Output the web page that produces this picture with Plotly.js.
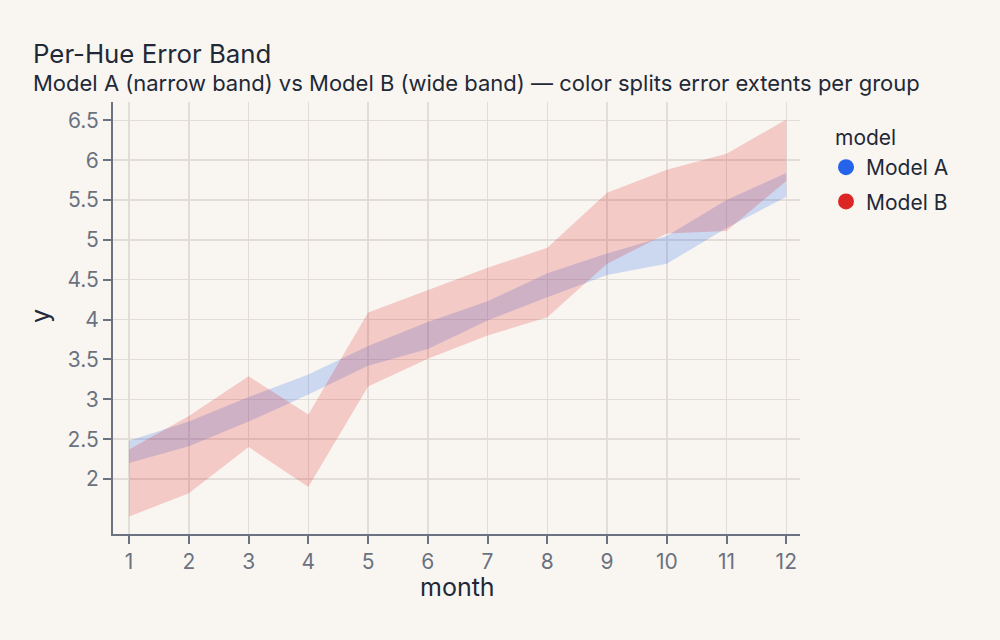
<!DOCTYPE html>
<html>
<head>
<meta charset="utf-8">
<script src="https://cdn.plot.ly/plotly-3.0.1.min.js"></script>
<style>
  html, body { margin: 0; padding: 0; background: #f9f6f1; }
  #chart { width: 1000px; height: 640px; }
</style>
</head>
<body>
<div id="chart"></div>
<script>
// ---- data ----
const months = [1, 2, 3, 4, 5, 6, 7, 8, 9, 10, 11, 12];
const modelNames = ["Model A", "Model B"];
const modelA_lower = [2.20, 2.41, 2.72, 3.06, 3.42, 3.63, 3.99, 4.28, 4.56, 4.70, 5.15, 5.54];
const modelA_upper = [2.48, 2.72, 3.03, 3.31, 3.67, 3.97, 4.23, 4.58, 4.83, 5.05, 5.50, 5.84];
const modelB_lower = [1.53, 1.82, 2.40, 1.90, 3.16, 3.51, 3.80, 4.03, 4.70, 5.08, 5.11, 5.74];
const modelB_upper = [2.37, 2.79, 3.29, 2.81, 4.09, 4.37, 4.65, 4.90, 5.59, 5.88, 6.08, 6.51];
const yTicks = [2, 2.5, 3, 3.5, 4, 4.5, 5, 5.5, 6, 6.5];
const yTickText = ["2", "2.5", "3", "3.5", "4", "4.5", "5", "5.5", "6", "6.5"];
const titleText = "Per-Hue Error Band";
const subtitleText = "Model A (narrow band) vs Model B (wide band) — color splits error extents per group";
const legendTitle = "model";
const xTitle = "month";
const yTitle = "y";

// ---- styling ----
const colors = { "Model A": "#2563eb", "Model B": "#dc2626" };
const fills = { "Model A": "rgba(37,99,235,0.21)", "Model B": "rgba(220,38,38,0.21)" };
const bands = {
  "Model A": { lower: modelA_lower, upper: modelA_upper },
  "Model B": { lower: modelB_lower, upper: modelB_upper }
};

const traces = [];
modelNames.forEach(name => {
  const b = bands[name];
  traces.push({
    type: "scatter",
    mode: "lines",
    x: months.concat(months.slice().reverse()),
    y: b.upper.concat(b.lower.slice().reverse()),
    fill: "toself",
    fillcolor: fills[name],
    line: { width: 0, color: colors[name] },
    hoverinfo: "skip",
    showlegend: false,
    legendgroup: name
  });
});
modelNames.forEach(name => {
  traces.push({
    type: "scatter",
    mode: "markers",
    x: [null],
    y: [null],
    name: name,
    legendgroup: name,
    marker: { color: colors[name], size: 16, symbol: "circle" },
    showlegend: true
  });
});

const tickColor = "#6b7280";
const textColor = "#1f2937";
const gridColor = "#e2ddd8";

// plot area in pixels: left 113, right 800, top 102, bottom 534
const pxToPaperX = px => (px - 113) / 687;
const pxToPaperY = py => (534 - py) / 432;

const layout = {
  width: 1000,
  height: 640,
  paper_bgcolor: "#f9f6f1",
  plot_bgcolor: "#f9f6f1",
  font: { family: "Inter, 'Noto Sans', sans-serif", color: textColor, size: 20 },
  margin: { l: 113, r: 200, t: 102, b: 106 },
  annotations: [
    { text: titleText, xref: "paper", yref: "paper", x: pxToPaperX(31), y: pxToPaperY(53),
      xanchor: "left", yanchor: "middle", showarrow: false, font: { size: 25.8, color: textColor } },
    { text: subtitleText, xref: "paper", yref: "paper", x: pxToPaperX(31), y: pxToPaperY(83),
      xanchor: "left", yanchor: "middle", showarrow: false, font: { size: 22, color: textColor } },
    { text: legendTitle, xref: "paper", yref: "paper", x: pxToPaperX(833), y: pxToPaperY(137),
      xanchor: "left", yanchor: "middle", showarrow: false, font: { size: 21, color: textColor } },
    { text: xTitle, xref: "paper", yref: "paper", x: pxToPaperX(457), y: pxToPaperY(587),
      xanchor: "center", yanchor: "middle", showarrow: false, font: { size: 25, color: textColor } },
    { text: yTitle, xref: "paper", yref: "paper", x: pxToPaperX(40), y: pxToPaperY(316),
      xanchor: "center", yanchor: "middle", textangle: -90, showarrow: false, font: { size: 25, color: textColor } }
  ],
  xaxis: {
    range: [0.73, 12.23],
    tickvals: months,
    ticktext: months.map(String),
    showgrid: true,
    gridcolor: gridColor,
    gridwidth: 1.5,
    zeroline: false,
    showline: true,
    linecolor: tickColor,
    linewidth: 2,
    ticks: "outside",
    ticklen: 8,
    tickwidth: 2,
    tickcolor: tickColor,
    tickfont: { size: 21, color: tickColor }
  },
  yaxis: {
    range: [1.31, 6.73],
    tickvals: yTicks,
    ticktext: yTickText,
    showgrid: true,
    gridcolor: gridColor,
    gridwidth: 1.5,
    zeroline: false,
    showline: true,
    linecolor: tickColor,
    linewidth: 2,
    ticks: "outside",
    ticklen: 8,
    tickwidth: 2,
    tickcolor: tickColor,
    tickfont: { size: 21, color: tickColor }
  },
  legend: {
    font: { size: 21, color: textColor },
    x: pxToPaperX(826), xanchor: "left",
    y: pxToPaperY(147), yanchor: "top",
    bgcolor: "rgba(0,0,0,0)",
    tracegroupgap: 4
  },
  hovermode: false
};

Plotly.newPlot("chart", traces, layout, { displayModeBar: false, staticPlot: true });
</script>
</body>
</html>
